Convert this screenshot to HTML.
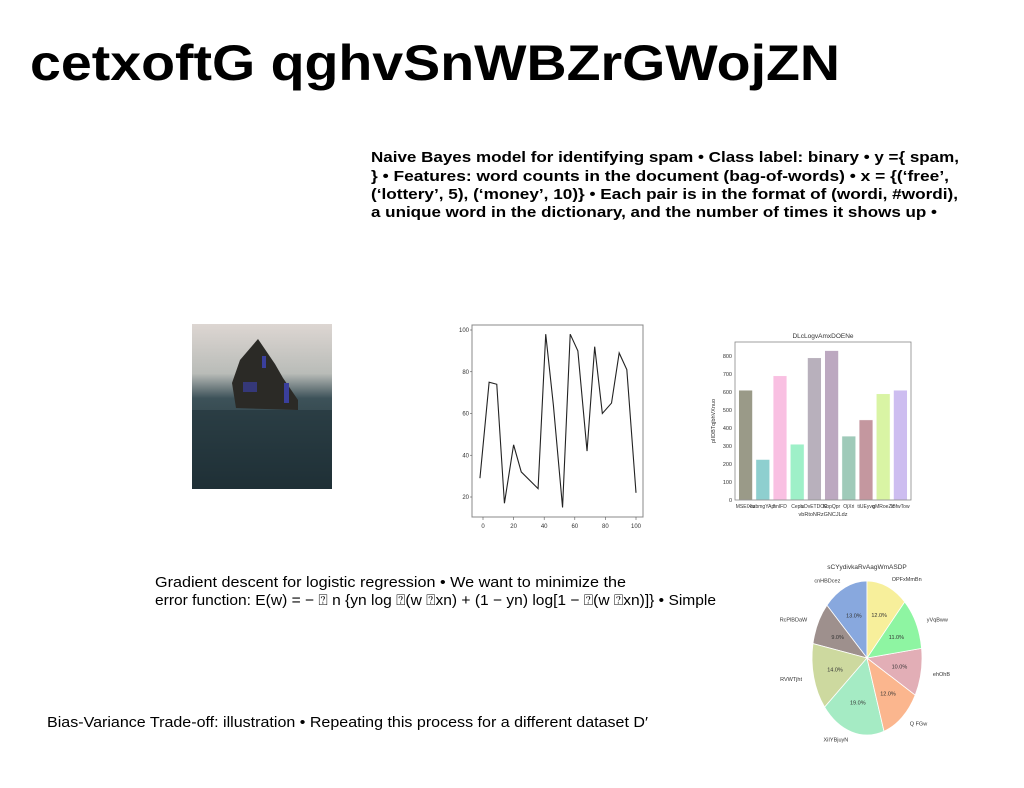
<!DOCTYPE html>
<html><head><meta charset="utf-8"><style>
html,body{margin:0;padding:0;background:#fff;width:1024px;height:788px;overflow:hidden}
svg{display:block}
text{font-family:"Liberation Sans",sans-serif}
</style></head><body>
<svg id="s" width="1024" height="788" viewBox="0 0 1024 788">
<text x="30" y="80" font-size="50" font-weight="bold" textLength="810" lengthAdjust="spacingAndGlyphs">cetxoftG qghvSnWBZrGWojZN</text>
<g font-size="15" font-weight="bold">
<text x="371" y="162" textLength="588" lengthAdjust="spacingAndGlyphs">Naive Bayes model for identifying spam • Class label: binary • y ={ spam,</text>
<text x="371" y="181" textLength="578" lengthAdjust="spacingAndGlyphs">} • Features: word counts in the document (bag-of-words) • x = {(‘free’,</text>
<text x="371" y="199" textLength="587" lengthAdjust="spacingAndGlyphs">(‘lottery’, 5), (‘money’, 10)} • Each pair is in the format of (wordi, #wordi),</text>
<text x="371" y="217" textLength="566" lengthAdjust="spacingAndGlyphs">a unique word in the dictionary, and the number of times it shows up •</text>
</g>
<g font-size="15">
<text x="155" y="587" textLength="471" lengthAdjust="spacingAndGlyphs">Gradient descent for logistic regression • We want to minimize the</text>
<text x="155" y="605" textLength="561" lengthAdjust="spacingAndGlyphs">error function: E(w) = − ⍰ n {yn log ⍰(w ⍰xn) + (1 − yn) log[1 − ⍰(w ⍰xn)]} • Simple</text>
</g>
<text x="47" y="727" font-size="15" textLength="601" lengthAdjust="spacingAndGlyphs">Bias-Variance Trade-off: illustration • Repeating this process for a different dataset D′</text>

<g>
<defs><linearGradient id="sky" x1="0" y1="0" x2="0" y2="1">
<stop offset="0" stop-color="#ddd6d2"/><stop offset="0.3" stop-color="#b9bcb8"/><stop offset="0.45" stop-color="#3d5259"/><stop offset="1" stop-color="#1c2a30"/></linearGradient></defs>
<rect x="192" y="324" width="140" height="165" fill="url(#sky)"/>
<polygon points="232,383 240,360 258,339 275,364 283,378 298,400 298,410 236,408" fill="#2b2a26"/>
<rect x="284" y="383" width="5" height="20" fill="#3a3f9c"/>
<rect x="262" y="356" width="4" height="12" fill="#3a3f9c"/>
<rect x="243" y="382" width="14" height="10" fill="#3a3f9c" opacity="0.7"/>
<rect x="192" y="410" width="140" height="79" fill="#22343b" opacity="0.6"/>
</g>

<g id="line"></g>
<g id="bar"></g>
<g id="pie"></g>
</svg>
<script>
const lineX=[-2,4,9,14,20,25,36,41,46,52,57,62,68,73,78,84,89,94,100];
const lineY=[29,75,74,17,45,32,24,98,64,15,98,90,42,92,60,65,89,81,22];
const lineXTicks=[0,20,40,60,80,100];
const lineYTicks=[20,40,60,80,100];

const barCats=["MSEIXtu","ozbmgYApl","hnIFD","Cepb","uDvETDOE","KbpQpr","OjXri","tiUEyvq","gMRoeZx","lBfwTow"];
const barVals=[610,225,690,310,790,830,355,445,590,610];
const barColors=["#9a9a88","#8ecfcf","#f9c0e2","#9ef0c8","#b8b0bc","#bca8c0","#9fcab9","#c4979f","#d9f4a4","#cdbdf0"];
const barYTicks=[0,100,200,300,400,500,600,700,800];

const pieLabels=["cnHBDcez","RcPlBDaW","RVWTjht","XiIYBjuyN","Q FGw","ehOhB","yVqBww","OPFxMmBn"];
const pieVals=[13,9,14,19,12,10,11,12];
const pieColors=["#88a8de","#9e908d","#cdd99f","#a5ebc4","#fbb68e","#e2aeb6","#8ef5a2","#f7ef9b"];

const NS="http://www.w3.org/2000/svg";
function mk(p,t,a,txt){const e=document.createElementNS(NS,t);for(const k in a)e.setAttribute(k,a[k]);if(txt!==undefined)e.textContent=txt;p.appendChild(e);return e;}

// line chart
(function(){
const g=document.getElementById('line');
const L=472,R=643,T=325,B=517;
const sx=v=>483+(v-0)*(636-483)/100, sy=v=>497-(v-20)*(497-330)/80;
const fr=mk(g,'rect',{x:L,y:T,width:R-L,height:B-T,fill:'none',stroke:'#888','stroke-width':1});


lineXTicks.forEach(v=>{const t=mk(g,'text',{x:sx(v),y:B+11,'font-size':6,'text-anchor':'middle',fill:'#333'},v);


mk(g,'line',{x1:sx(v),x2:sx(v),y1:B,y2:B+3,stroke:'#555','stroke-width':0.6});});
lineYTicks.forEach(v=>{const t=mk(g,'text',{x:L-3,y:sy(v)+2,'font-size':6,'text-anchor':'end',fill:'#333'},v);


mk(g,'line',{x1:L-2,x2:L,y1:sy(v),y2:sy(v),stroke:'#555','stroke-width':0.6});});
const pts=lineX.map((x,i)=>sx(x)+','+sy(lineY[i])).join(' ');
const pl=mk(g,'polyline',{points:pts,fill:'none',stroke:'#222','stroke-width':1.1});


})();

// bar chart
(function(){
const g=document.getElementById('bar');
const L=735,R=911,T=342,B=500;
const sy=v=>B-v*(B-356)/800;
const n=barCats.length, step=(R-L-4)/n;
const tt=mk(g,'text',{x:(L+R)/2,y:T-4,'font-size':6.5,'text-anchor':'middle',fill:'#333'},'DLcLogvAmxDOENe');


barVals.forEach((v,i)=>{const x=L+2+i*step+step*0.1;
const r=mk(g,'rect',{x:x,y:sy(v),width:step*0.8,height:B-sy(v),fill:barColors[i],stroke:'#fff','stroke-width':0.5});


const t=mk(g,'text',{x:x+step*0.4,y:B+8,'font-size':5,'text-anchor':'middle',fill:'#333'},barCats[i]);

});
const fr=mk(g,'rect',{x:L,y:T,width:R-L,height:B-T,fill:'none',stroke:'#888','stroke-width':0.8});


barYTicks.forEach(v=>{const t=mk(g,'text',{x:L-3,y:sy(v)+2,'font-size':5.5,'text-anchor':'end',fill:'#333'},v);

});
const xl=mk(g,'text',{x:(L+R)/2,y:B+16,'font-size':5.5,'text-anchor':'middle',fill:'#333'},'vbRtoNRzGNCJLdz');


const yl=mk(g,'text',{x:0,y:0,'font-size':5.5,'text-anchor':'middle',fill:'#333',transform:`translate(${L-20},${(T+B)/2}) rotate(-90)`},'pIIDBTqjbhVXnuo');


})();

// pie chart
(function(){
const g=document.getElementById('pie');
const cx=867,cy=658,rx=55,ry=77;
const tot=pieVals.reduce((a,b)=>a+b,0);
const tt=mk(g,'text',{x:cx,y:569,'font-size':6.5,'text-anchor':'middle',fill:'#333'},'sCYydivkaRvAagWmASDP');


let a=Math.PI/2;
pieVals.forEach((v,i)=>{const d=v/tot*2*Math.PI, a2=a+d;
const p=(ang,kx,ky)=>[cx+kx*Math.cos(ang),cy-ky*Math.sin(ang)];
const [x1,y1]=p(a,rx,ry),[x2,y2]=p(a2,rx,ry);
const s=mk(g,'path',{d:`M${cx},${cy} L${x1},${y1} A${rx},${ry} 0 ${d>Math.PI?1:0} 0 ${x2},${y2} Z`,fill:pieColors[i],stroke:'#fff','stroke-width':0.8});


const m=(a+a2)/2;
const [px,py]=p(m,rx*0.6,ry*0.6);
const pt=mk(g,'text',{x:px,y:py+2,'font-size':5.5,'text-anchor':'middle',fill:'#333'},v.toFixed(1)+'%');


const [lx,ly]=p(m,rx*1.22,ry*1.1);
const lt=mk(g,'text',{x:lx,y:ly+2,'font-size':5.5,'text-anchor':Math.cos(m)<0?'end':'start',fill:'#333'},pieLabels[i]);


a=a2;});
})();
</script>
</body></html>
